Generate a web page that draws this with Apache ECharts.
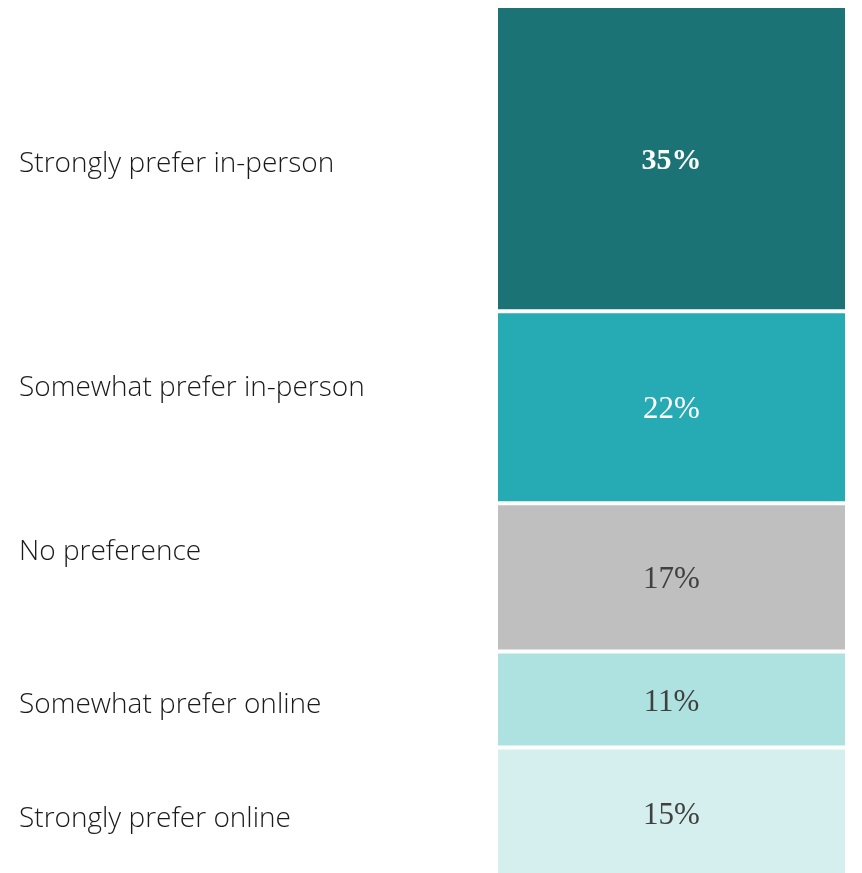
<!DOCTYPE html>
<html>
<head>
<meta charset="utf-8">
<script src="https://cdn.jsdelivr.net/npm/echarts@6/dist/echarts.min.js"></script>
<style>
  html, body { margin: 0; padding: 0; background: #fff; }
  #chart { width: 862px; height: 873px; }
</style>
</head>
<body>
<div id="chart"></div>
<script>
// Share of respondents by preference (percent), top to bottom
const categories = [
  'Strongly prefer in-person',
  'Somewhat prefer in-person',
  'No preference',
  'Somewhat prefer online',
  'Strongly prefer online'
];
const values = [35, 22, 17, 11, 15];

// Styling per segment
const colors = ['#1b7375', '#26aab4', '#bfbfbf', '#aee2e0', '#d5efef'];
const valueTextColors = ['#ffffff', '#ffffff', '#404040', '#404040', '#404040'];
const valueTextWeights = ['bold', 'normal', 'normal', 'normal', 'normal'];
const valueTextSizes = [30, 31, 31, 31, 31];
// vertical shift (px) of each side caption relative to its segment centre
const captionShift = [-9, -33, -39, -8, -8];

const chart = echarts.init(document.getElementById('chart'), null, { renderer: 'canvas' });

const series = values.map((v, i) => ({
  name: categories[i],
  type: 'bar',
  stack: 'total',
  data: [v],
  barWidth: '100%',
  clip: false,
  itemStyle: { color: colors[i], borderColor: '#ffffff', borderWidth: 2 },
  label: {
    show: true,
    position: 'inside',
    offset: [0, 3],
    formatter: '{c}%',
    fontFamily: '"Liberation Serif", "DejaVu Serif", serif',
    fontSize: valueTextSizes[i],
    fontWeight: valueTextWeights[i],
    color: valueTextColors[i]
  },
  emphasis: { disabled: true },
  silent: true
}));

// The column runs a little past the bottom edge of the canvas,
// so the visible axis range stops just short of 100.
chart.setOption({
  animation: false,
  grid: { left: 496, width: 351, top: 6, bottom: 0 },
  xAxis: {
    type: 'category',
    data: ['share'],
    show: false
  },
  yAxis: {
    type: 'value',
    inverse: true,
    min: 0,
    max: 99.4,
    show: false
  },
  series: series
});

// Side captions, placed next to the middle of each stacked segment
let cum = 0;
const captions = values.map((v, i) => {
  const mid = cum + v / 2;
  cum += v;
  const pt = chart.convertToPixel({ gridIndex: 0 }, ['share', mid]);
  return {
    type: 'text',
    left: 19,
    top: pt[1] + captionShift[i],
    style: {
      text: categories[i],
      fontFamily: '"Open Sans", Lato, sans-serif',
      fontWeight: 300,
      fontSize: 28,
      fill: '#1a1a1a',
      verticalAlign: 'middle'
    }
  };
});
chart.setOption({ graphic: captions });
</script>
</body>
</html>
